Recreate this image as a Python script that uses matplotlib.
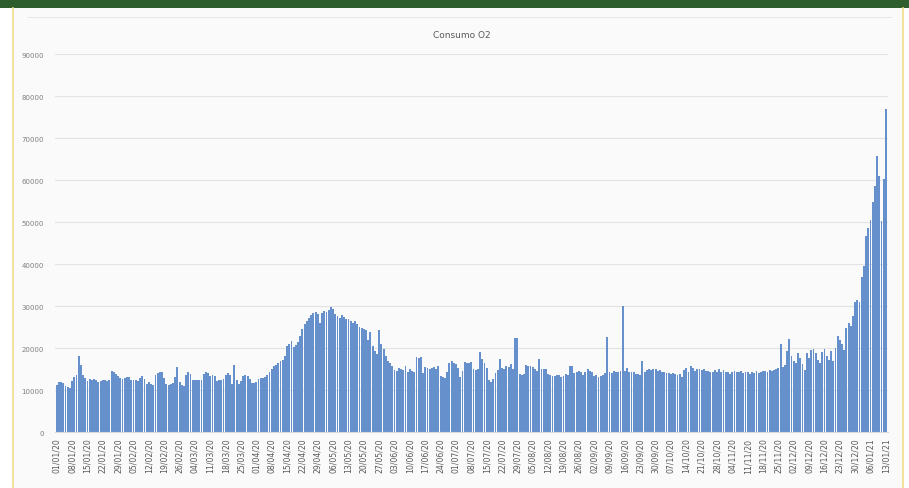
import matplotlib.pyplot as plt
from matplotlib.patches import Rectangle
from matplotlib.lines import Line2D

# Consumo diario de O2, 01/01/20 -> 13/01/21 (una fila por semana)
consumo = [
    11200, 11800, 12000, 11600, 11000, 10800, 10500,
    12200, 13000, 13500, 18100, 16000, 13500, 12800,
    12200, 12700, 12500, 12600, 12300, 12000, 12100,
    12300, 12500, 12200, 12400, 14500, 14300, 13800,
    13400, 12800, 12600, 12900, 13200, 13000, 12400,
    12400, 12300, 12200, 12900, 13400, 12700, 11500,
    12000, 11500, 11300, 13500, 14000, 14300, 14200,
    12800, 11500, 11300, 11400, 11600, 13000, 15400,
    11800, 11200, 11000, 13500, 14200, 13800, 12500,
    12400, 12400, 12300, 12400, 13800, 14200, 14000,
    13400, 13500, 13300, 12200, 12400, 12400, 12600,
    13600, 14000, 13500, 11500, 16000, 12400, 11500,
    12200, 13400, 13600, 13300, 12700, 11600, 11700,
    11800, 12600, 12900, 12800, 13000, 13500, 14200,
    15000, 15600, 16000, 16400, 16800, 17200, 18000,
    20500, 21000, 21600, 20200, 20600, 21500, 22800,
    24500, 25800, 26400, 27200, 27800, 28400, 28600,
    28000, 26000, 28400, 28800, 28600, 29000, 29800,
    29300, 28000, 27600, 27200, 27900, 27400, 27000,
    26800, 26500, 26000, 26400, 25600, 25000, 24800,
    24600, 24200, 22000, 23800, 20500, 19300, 18500,
    24200, 21000, 19800, 18000, 17000, 16500, 15600,
    14800, 14500, 15300, 15000, 14800, 15600, 14400,
    15000, 14600, 14300, 17800, 17700, 17800, 14000,
    15400, 15200, 15000, 15300, 15500, 15000, 15600,
    13400, 13100, 12900, 14200, 16500, 16800, 16500,
    16200, 15200, 13200, 14500, 16700, 16500, 16400,
    16600, 15000, 14700, 15000, 19000, 17500, 16500,
    15200, 12400, 11800, 12600, 14000, 14800, 17300,
    15300, 15100, 15600, 15400, 16200, 14900, 22300,
    22400, 13800, 13500, 13800, 16000, 15800, 15600,
    15500, 15000, 14600, 17400, 15000, 14900, 15100,
    13800, 13600, 13400, 13300, 13500, 13600, 13200,
    13400, 13800, 13500, 15800, 15800, 14000, 14200,
    14500, 14300, 13500, 14200, 15000, 14600, 14200,
    13400, 13600, 13100, 13400, 13500, 14000, 22600,
    14300, 14000, 14500, 14200, 14400, 14600, 30000,
    14500, 15200, 14400, 14200, 14300, 13900, 13800,
    13500, 16800, 14200, 14800, 15000, 14700, 15100,
    15000, 14500, 14800, 14300, 14200, 14000, 14100,
    13900, 14000, 13800, 13600, 13700, 13100, 14800,
    15300, 14400, 15800, 15200, 14600, 15100, 15000,
    14800, 15100, 14500, 14600, 14200, 14400, 14700,
    14300, 15000, 14200, 14700, 14200, 14300, 13700,
    14200, 14600, 14400, 14300, 14600, 14000, 14200,
    14300, 13800, 14200, 14100, 14500, 14000, 14300,
    14600, 14500, 14300, 14700, 14600, 14800, 14900,
    15200, 21000, 15400, 16000, 19300, 22100, 18200,
    17000, 16500, 18800, 17700, 16200, 14800, 18900,
    17600, 19600, 19800, 18900, 17200, 16500, 19000,
    19800, 18200, 17200, 19200, 16800, 20000, 22900,
    22000, 21000, 19500, 24800, 26000, 25200, 27600,
    31000, 31500, 31000, 37000, 39500, 46700, 48500,
    50500, 54800, 58600, 65800, 61000, 50200, 60200,
    76900,
]

# etiquetas del eje x (una cada 7 dias)
etiquetas = [
    '01/01/20', '08/01/20', '15/01/20', '22/01/20', '29/01/20', '05/02/20',
    '12/02/20', '19/02/20', '26/02/20', '04/03/20', '11/03/20', '18/03/20',
    '25/03/20', '01/04/20', '08/04/20', '15/04/20', '22/04/20', '29/04/20',
    '06/05/20', '13/05/20', '20/05/20', '27/05/20', '03/06/20', '10/06/20',
    '17/06/20', '24/06/20', '01/07/20', '08/07/20', '15/07/20', '22/07/20',
    '29/07/20', '05/08/20', '12/08/20', '19/08/20', '26/08/20', '02/09/20',
    '09/09/20', '16/09/20', '23/09/20', '30/09/20', '07/10/20', '14/10/20',
    '21/10/20', '28/10/20', '04/11/20', '11/11/20', '18/11/20', '25/11/20',
    '02/12/20', '09/12/20', '16/12/20', '23/12/20', '30/12/20', '06/01/21',
    '13/01/21',
]

fig = plt.figure(figsize=(9.09, 4.89), dpi=100)
fig.patch.set_facecolor('white')

# fondo del panel, banda verde y bordes amarillos
fig.patches.append(Rectangle((0.014, 0), 0.98, 1, transform=fig.transFigure,
                             facecolor='#fafafa', edgecolor='none', zorder=-3))
fig.patches.append(Rectangle((0, 0.982), 1, 0.018, transform=fig.transFigure,
                             facecolor='#2e5e2e', edgecolor='none', zorder=-1))
fig.lines.append(Line2D([0.014, 0.014], [0, 0.982], transform=fig.transFigure,
                        color='#f2dc8a', lw=1.2))
fig.lines.append(Line2D([0.993, 0.993], [0, 0.982], transform=fig.transFigure,
                        color='#f2dc8a', lw=1.2))
fig.lines.append(Line2D([0.03, 0.98], [0.963, 0.963], transform=fig.transFigure,
                        color='#e4e4e4', lw=0.6))

ax = fig.add_axes([0.0605, 0.1145, 0.916, 0.773])
ax.set_facecolor('none')

x = list(range(len(consumo)))
ax.bar(x, consumo, width=0.85, color='#6690cc', zorder=2)

ax.set_ylim(0, 90000)
ax.set_yticks(range(0, 90001, 10000))
ax.set_xlim(-0.8, len(consumo) - 0.2)
ax.set_xticks(x[::7])
ax.set_xticklabels(etiquetas, rotation=90, fontsize=5.6, color='#595959')
ax.tick_params(axis='y', labelsize=5, colors='#7f7f7f', length=0, pad=8)
ax.tick_params(axis='x', length=0, pad=4)

ax.grid(axis='y', color='#e3e3e3', lw=0.8, zorder=0)
for s in ['top', 'right', 'left']:
    ax.spines[s].set_visible(False)
ax.spines['bottom'].set_color('#d9d9d9')

fig.text(0.508, 0.928, 'Consumo O2', ha='center', va='center',
         fontsize=6.5, color='#595959')

plt.savefig('out.png', dpi=100)
